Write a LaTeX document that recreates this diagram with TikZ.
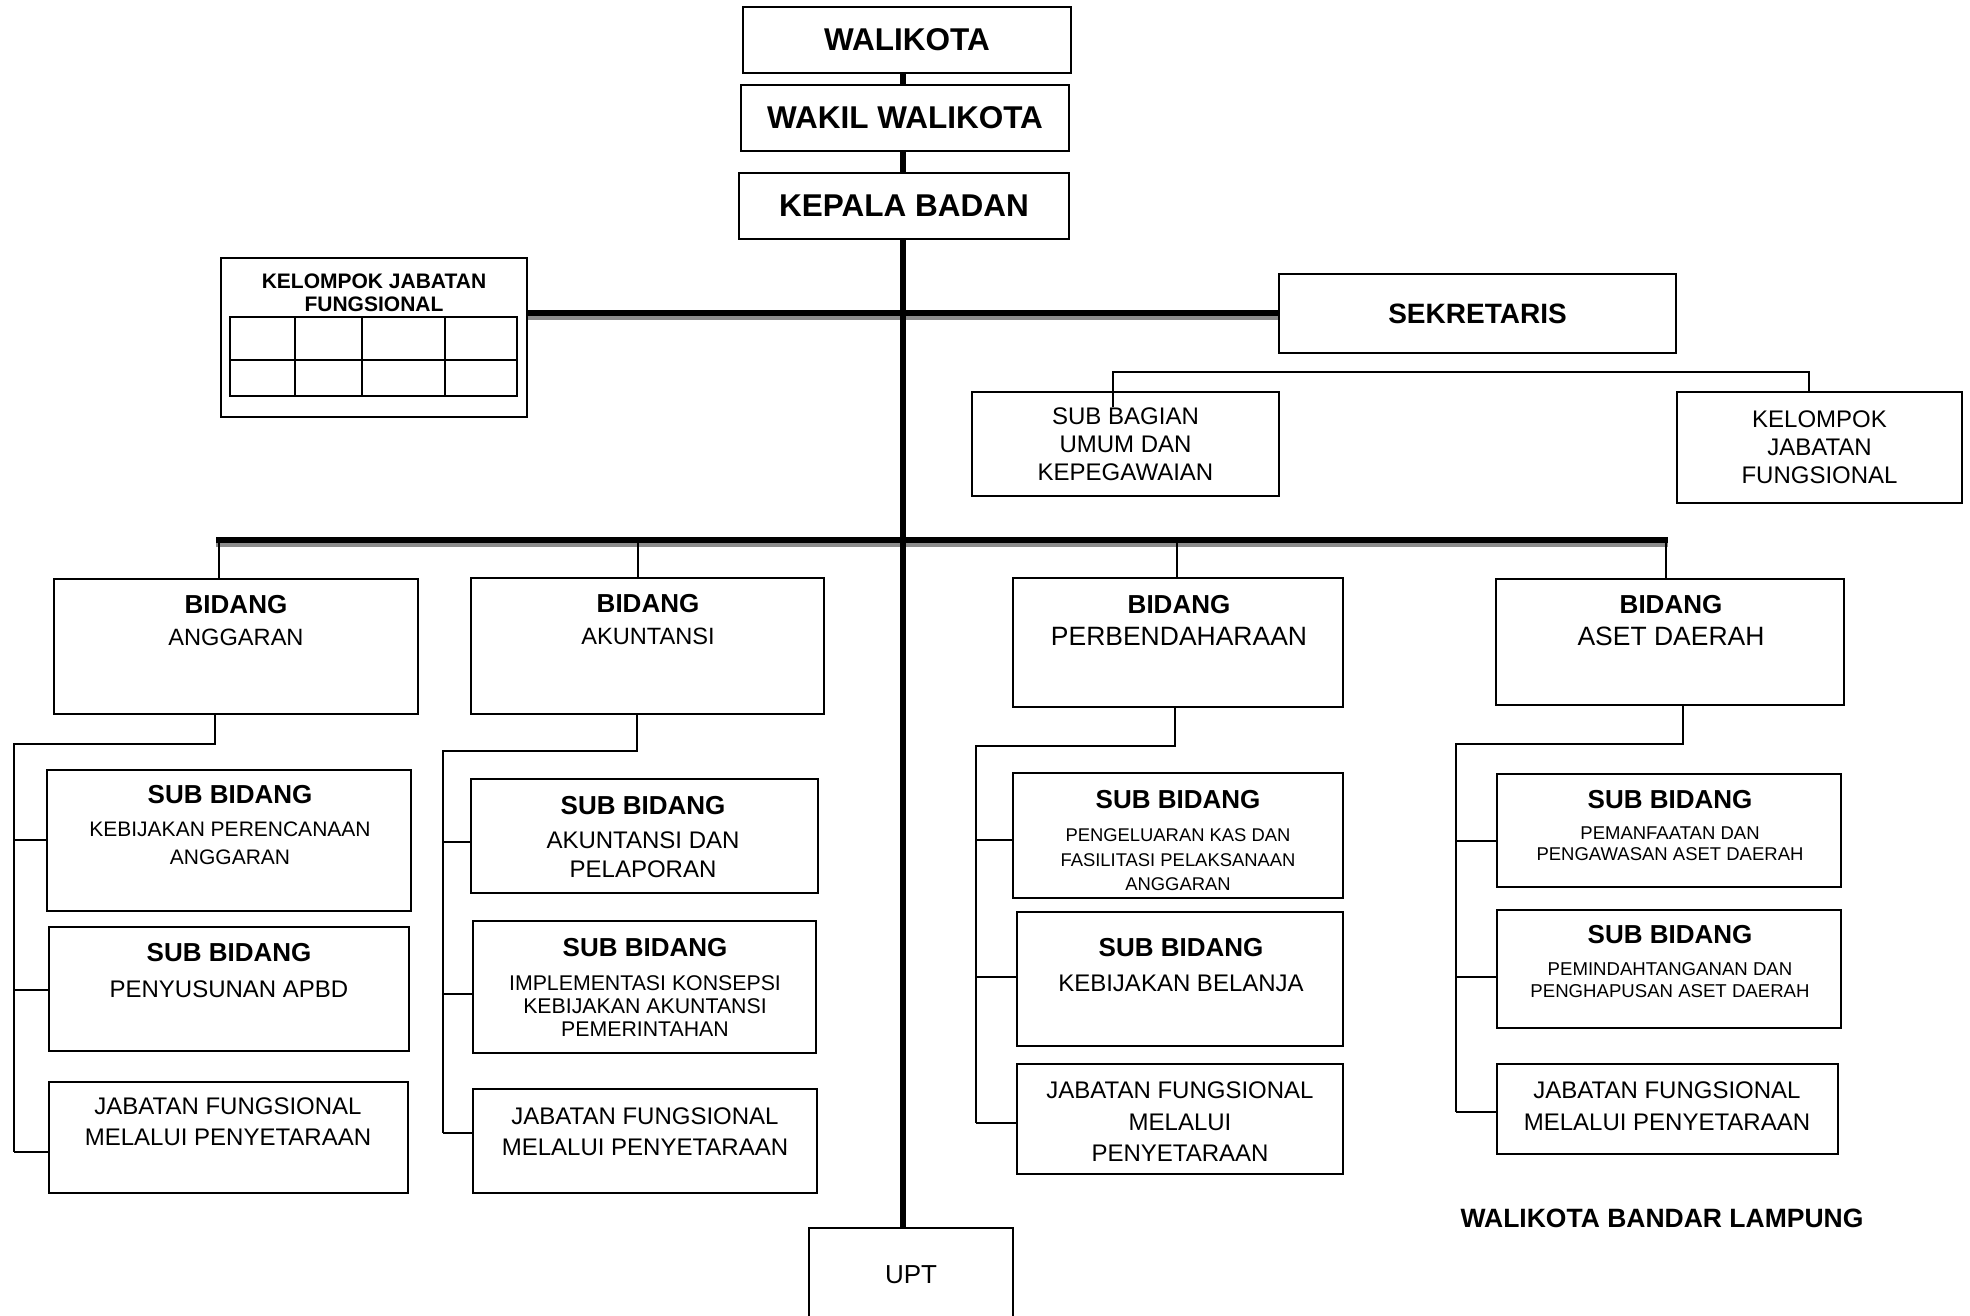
\documentclass[tikz,border=0pt]{standalone}
\usepackage{fontspec}
\setmainfont{Liberation Sans}
\newcommand{\uk}[2]{\fontsize{#1}{#2}\selectfont}
\tikzset{
  kotak/.style={draw, line width=1.4pt, inner sep=0pt},
  teks/.style={align=center, inner sep=0pt},
  garis/.style={line width=1.3pt},
  tebal/.style={line width=5.5pt},
  bayang/.style={line width=4pt, black!45},
}
\begin{document}
\begin{tikzpicture}[x=1pt,y=-1pt]
\useasboundingbox (0,0) rectangle (1970,1316);
\clip (0,0) rectangle (1970,1316);
% pimpinan
\node[kotak, minimum width=328pt, minimum height=66pt, font=\uk{31.5}{36}\bfseries] (wali) at (907,40) {WALIKOTA};
\node[kotak, minimum width=328pt, minimum height=66pt, font=\uk{31.5}{36}\bfseries] (wakil) at (905,118) {WAKIL WALIKOTA};
\node[kotak, minimum width=330pt, minimum height=66pt, font=\uk{31.5}{36}\bfseries] (kepala) at (904,206) {KEPALA BADAN};
% kelompok jabatan fungsional (kiri)
\node[kotak, minimum width=306pt, minimum height=159pt] (kjf) at (374,337.5) {};
\node[teks, font=\uk{21}{23}\bfseries] (kjfTx) at (374,292.5) {KELOMPOK JABATAN\\FUNGSIONAL};
\draw[line width=1.1pt] (230,317) rectangle (517,396);
\draw[line width=1.1pt] (230,360) -- (517,360);
\foreach \x in {295,362,445}
{ \draw[line width=1.1pt] (\x,317) -- (\x,396);};
% sekretariat
\node[kotak, minimum width=397pt, minimum height=79pt, font=\uk{28}{32}\bfseries] (sekr) at (1477.5,313.5) {SEKRETARIS};
\node[kotak, teks, minimum width=307pt, minimum height=104pt, font=\uk{24}{28}] (sba) at (1125.5,444) {SUB BAGIAN\\UMUM DAN\\KEPEGAWAIAN};
\node[kotak, teks, minimum width=285pt, minimum height=111pt, font=\uk{24}{28}] (kjf2) at (1819.5,447.5) {KELOMPOK\\JABATAN\\FUNGSIONAL};
% bidang
\node[kotak, minimum width=364pt, minimum height=135pt] (bidAng) at (236,646.5) {};
\node[kotak, minimum width=353pt, minimum height=136pt] (bidAku) at (647.5,646) {};
\node[kotak, minimum width=330pt, minimum height=129pt] (bidPer) at (1178,642.5) {};
\node[kotak, minimum width=348pt, minimum height=126pt] (bidAset) at (1670,642) {};
\node[teks, font=\uk{23.6}{32}] (bidAngTx) at (236,621) {\textbf{\uk{26}{32}BIDANG}\\ANGGARAN};
\node[teks, font=\uk{23.6}{32}] (bidAkuTx) at (648,620) {\textbf{\uk{26}{32}BIDANG}\\AKUNTANSI};
\node[teks, font=\uk{26.5}{32}] (bidPerTx) at (1179,620) {\textbf{\uk{26}{32}BIDANG}\\PERBENDAHARAAN};
\node[teks, font=\uk{26.5}{32}] (bidAsetTx) at (1671,621) {\textbf{\uk{26}{32}BIDANG}\\ASET DAERAH};
% sub bidang anggaran
\node[kotak, minimum width=364pt, minimum height=141pt] (ang1) at (229,840.5) {};
\node[kotak, minimum width=360pt, minimum height=124pt] (ang2) at (229,989) {};
\node[kotak, minimum width=359pt, minimum height=111pt] (ang3) at (228.5,1137.5) {};
\node[teks, font=\uk{21}{28}] (ang1Tx) at (230,825) {\textbf{\uk{26}{28}SUB BIDANG}\\[5pt]KEBIJAKAN PERENCANAAN\\ANGGARAN};
\node[teks, font=\uk{24}{36}] (ang2Tx) at (229,971) {\textbf{\uk{26}{36}SUB BIDANG}\\PENYUSUNAN APBD};
\node[teks, font=\uk{24}{31}] (ang3Tx) at (228,1122) {JABATAN FUNGSIONAL\\MELALUI PENYETARAAN};
% sub bidang akuntansi
\node[kotak, minimum width=347pt, minimum height=114pt] (aku1) at (644.5,836) {};
\node[kotak, minimum width=343pt, minimum height=132pt] (aku2) at (644.5,987) {};
\node[kotak, minimum width=344pt, minimum height=104pt] (aku3) at (645,1141) {};
\node[teks, font=\uk{24}{29}] (aku1Tx) at (643,837) {\textbf{\uk{26}{29}SUB BIDANG}\\[5pt]AKUNTANSI DAN\\PELAPORAN};
\node[teks, font=\uk{21.3}{23}] (aku2Tx) at (645,987) {\textbf{\uk{26}{23}SUB BIDANG}\\[11pt]IMPLEMENTASI KONSEPSI\\KEBIJAKAN AKUNTANSI\\PEMERINTAHAN};
\node[teks, font=\uk{24}{31}] (aku3Tx) at (645,1132) {JABATAN FUNGSIONAL\\MELALUI PENYETARAAN};
% sub bidang perbendaharaan
\node[kotak, minimum width=330pt, minimum height=125pt] (per1) at (1178,835.5) {};
\node[kotak, minimum width=326pt, minimum height=134pt] (per2) at (1180,979) {};
\node[kotak, minimum width=326pt, minimum height=110pt] (per3) at (1180,1119) {};
\node[teks, font=\uk{18.4}{24.5}] (per1Tx) at (1178,841) {\textbf{\uk{26}{24.5}SUB BIDANG}\\[8.5pt]PENGELUARAN KAS DAN\\FASILITASI PELAKSANAAN\\ANGGARAN};
\node[teks, font=\uk{24}{35}] (per2Tx) at (1181,965) {\textbf{\uk{26}{35}SUB BIDANG}\\KEBIJAKAN BELANJA};
\node[teks, font=\uk{24}{31.5}] (per3Tx) at (1180,1122) {JABATAN FUNGSIONAL\\MELALUI\\PENYETARAAN};
% sub bidang aset daerah
\node[kotak, minimum width=344pt, minimum height=113pt] (aset1) at (1669,830.5) {};
\node[kotak, minimum width=344pt, minimum height=118pt] (aset2) at (1669,969) {};
\node[kotak, minimum width=341pt, minimum height=90pt] (aset3) at (1667.5,1109) {};
\node[teks, font=\uk{18.5}{21}] (aset1Tx) at (1670,826) {\textbf{\uk{26}{21}SUB BIDANG}\\[10pt]PEMANFAATAN DAN\\PENGAWASAN ASET DAERAH};
\node[teks, font=\uk{18.6}{22}] (aset2Tx) at (1670,962) {\textbf{\uk{26}{22}SUB BIDANG}\\[10pt]PEMINDAHTANGANAN DAN\\PENGHAPUSAN ASET DAERAH};
\node[teks, font=\uk{24}{32}] (aset3Tx) at (1667,1106) {JABATAN FUNGSIONAL\\MELALUI PENYETARAAN};
% upt dan judul
\node[kotak, minimum width=204pt, minimum height=94pt, font=\uk{26}{30}] (upt) at (911,1275) {UPT};
\node[teks, font=\uk{26.5}{30}\bfseries] (judul) at (1662,1218) {WALIKOTA BANDAR LAMPUNG};
% garis
\coordinate (pusat) at (903,0);
\coordinate (atas) at (903,313);
\coordinate (atasB) at (903,317.5);
\coordinate (uKiri) at (216,540);
\coordinate (uKanan) at (1668,540);
\coordinate (uKiriB) at (216,544.5);
\coordinate (uKananB) at (1668,544.5);
\draw[bayang] (atasB -| kjf.east) -- (atasB -| sekr.west);
\draw[bayang] (uKiriB) -- (uKananB);
\draw[tebal] (atas -| kjf.east) -- (atas -| sekr.west);
\draw[tebal] (uKiri) -- (uKanan);
\draw[tebal] (wali.south -| pusat) -- (wakil.north -| pusat);
\draw[tebal] (wakil.south -| pusat) -- (kepala.north -| pusat);
\draw[tebal] (kepala.south -| pusat) -- (upt.north -| pusat);
\coordinate (sbKiri) at (1113,407);
\coordinate (sbKanan) at (1809,372);
\draw[garis] (sbKiri) |- (sbKanan) -- (sbKanan |- kjf2.north);
\foreach \b/\x in {bidAng/219,bidAku/638,bidPer/1177,bidAset/1666}
{ \coordinate (t) at (\x,540);
  \draw[garis] (t) -- (t |- \b.north);};
\foreach \b/\dx/\by/\vx/\ey in {bidAng/215/744/14/1152,bidAku/637/751/443/1133,bidPer/1175/746/976/1123,bidAset/1683/744/1456/1112}
{ \coordinate (p) at (\dx,\by);
  \coordinate (q) at (\vx,\by);
  \draw[garis] (p |- \b.south) -- (p) -- (q) -- (\vx,\ey);};
\foreach \s/\vx/\y in {ang1/14/840,ang2/14/990,ang3/14/1152,aku1/443/842,aku2/443/994,aku3/443/1133,per1/976/840,per2/976/977,per3/976/1123,aset1/1456/841,aset2/1456/977,aset3/1456/1112}
{ \coordinate (r) at (\vx,\y);
  \draw[garis] (r) -- (r -| \s.west);};
\end{tikzpicture}
\end{document}
